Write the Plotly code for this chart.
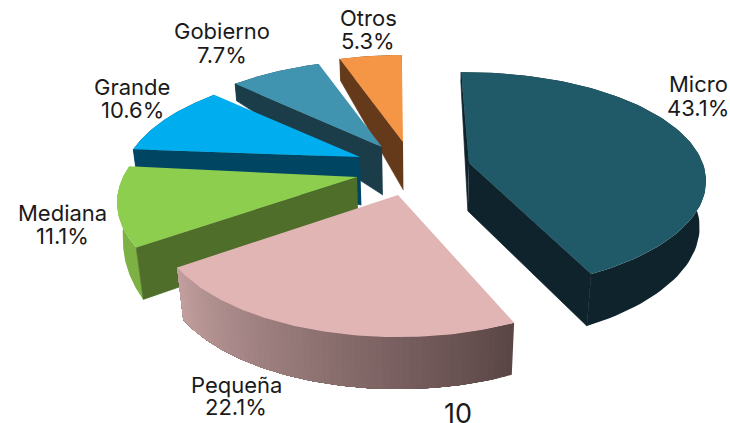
import numpy as np
import plotly.graph_objects as go

categories = ["Micro", "Pequeña", "Mediana", "Grande", "Gobierno", "Otros"]
shares = [43.1, 22.1, 11.1, 10.6, 7.7, 5.3]
page_number = "10"

# style / projection constants (pixels)
APEX = {"Micro": (469, 163), "Pequeña": (398, 195), "Mediana": (357, 177),
        "Grande": (360, 157), "Gobierno": (382, 147), "Otros": (403, 142)}
RIM_SHIFT = {"Micro": (-3, -8), "Mediana": (0, -2), "Grande": (1, 1)}
RIM_YSCALE = {"Micro": 0.95}
TOP = {"Micro": "#205A68", "Pequeña": "#E2B5B5", "Mediana": "#8ECE4E",
       "Grande": "#00AEEF", "Gobierno": "#4094AF", "Otros": "#F49645"}
FACE = {"Micro": "#0E232B", "Pequeña": "#5D4848", "Mediana": "#4E6E29",
        "Grande": "#004663", "Gobierno": "#1B3D4A", "Otros": "#653A1B"}
ARC = {"Micro": ("#0E232B", "#0E232B"), "Pequeña": ("#5B4646", "#C29E9E"),
       "Mediana": ("#7DB143", "#7DB143"), "Grande": ("#004663", "#004663"),
       "Gobierno": ("#1B3D4A", "#1B3D4A"), "Otros": ("#653A1B", "#653A1B")}
EDGES = {"Micro": ("start", "end"), "Pequeña": (), "Mediana": ("start",),
         "Grande": ("start",), "Gobierno": ("start",), "Otros": ("start",)}
START_EXTRA = {"Micro": -1.5, "Pequeña": 2}
PAINT_ORDER = ["Otros", "Gobierno", "Grande", "Mediana", "Micro", "Pequeña"]
R, H, K, APEX_DEPTH = 233, 108, 0.24, 48
LEAN, LEAN_X = 0.025, 420
DEPTH_ANG = [0, 60, 90, 155, 235, 255, 275, 313, 340, 360]
DEPTH_VAL = [10, 30, 45, 52, 52, 42, 17, 17, 22, 15]
LABELS = {"Micro": (698, 84, 108), "Pequeña": (236, 385, 407), "Mediana": (62, 213, 236),
          "Grande": (132, 87, 110), "Gobierno": (222, 31, 55), "Otros": (368, 18, 41)}
FONT = "Inter"


def hex_rgb(c):
    return np.array([int(c[i:i + 2], 16) for i in (1, 3, 5)], float)


def mix(a, b, t):
    v = hex_rgb(a) * (1 - t) + hex_rgb(b) * t
    return "rgb(%d,%d,%d)" % tuple(v.round())


def rim(name, cx, cy, deg):
    th = np.radians(deg)
    v = -np.cos(th)
    s = 1 / (1 - K * v)
    return cx + R * np.sin(th) * s, cy + RIM_YSCALE.get(name, 1) * H * v * s


def depth(deg):
    return np.interp(deg, DEPTH_ANG, DEPTH_VAL)


def lower_x(x, d):
    return x + LEAN * (LEAN_X - x) * d / 52


def poly(fig, xs, ys, color, width=0.0):
    fig.add_trace(go.Scatter(x=list(xs), y=list(ys), mode="lines", fill="toself",
                             fillcolor=color, hoverinfo="skip", showlegend=False,
                             line=dict(color=color, width=width)))


fig = go.Figure()
ends = np.cumsum(shares) * 3.6
starts = ends - np.array(shares) * 3.6
span = {c: (s + START_EXTRA.get(c, 0), e) for c, s, e in zip(categories, starts, ends)}

for name in PAINT_ORDER:
    a0, a1 = span[name]
    ax, ay = APEX[name]
    sx, sy = RIM_SHIFT.get(name, (0, 0))
    cx, cy = ax + sx, ay + sy
    # outer wall; shaded walls are overlapping strips so no seams show
    c0, c1 = ARC[name]
    n = 60 if c0 != c1 else 1
    grid = np.linspace(a0, a1, n + 1)
    for i in range(n):
        g = np.linspace(grid[i], a1, max(3, (n - i) * 2)) if n > 1 else np.linspace(a0, a1, 90)
        x, y = rim(name, cx, cy, g)
        d = depth(g)
        poly(fig, np.r_[x, lower_x(x, d)[::-1]], np.r_[y, (y + d)[::-1]], mix(c0, c1, i / max(n - 1, 1)))
    # straight cut faces
    for edge in EDGES[name]:
        deg = a0 if edge == "start" else a1
        x, y = rim(name, cx, cy, deg)
        d = depth(deg)
        poly(fig, [ax, x, lower_x(x, d), lower_x(ax, APEX_DEPTH)], [ay, y, y + d, ay + APEX_DEPTH],
             FACE[name], 0.7)
    # top surface
    g = np.linspace(a0, a1, 90)
    x, y = rim(name, cx, cy, g)
    poly(fig, np.r_[ax, x], np.r_[ay, y], TOP[name])

for name, share in zip(categories, shares):
    lx, y1, y2 = LABELS[name]
    for text, ly in ((name, y1), (f"{share}%", y2)):
        fig.add_annotation(x=lx, y=ly, text=text, showarrow=False, xanchor="center", yanchor="middle",
                           font=dict(family=FONT, size=22, color="#1A1A1A"))
fig.add_annotation(x=458, y=413, text=page_number, showarrow=False, xanchor="center", yanchor="middle",
                   font=dict(family=FONT, size=27, color="#1A1A1A"))

fig.update_layout(width=730, height=423, margin=dict(l=0, r=0, t=0, b=0),
                  paper_bgcolor="white", plot_bgcolor="white", showlegend=False,
                  xaxis=dict(range=[0, 730], visible=False, fixedrange=True),
                  yaxis=dict(range=[423, 0], visible=False, fixedrange=True))
fig.write_html("out.html", config={"displayModeBar": False},
               post_script="document.body.style.margin='0';document.documentElement.style.overflow='hidden';")
